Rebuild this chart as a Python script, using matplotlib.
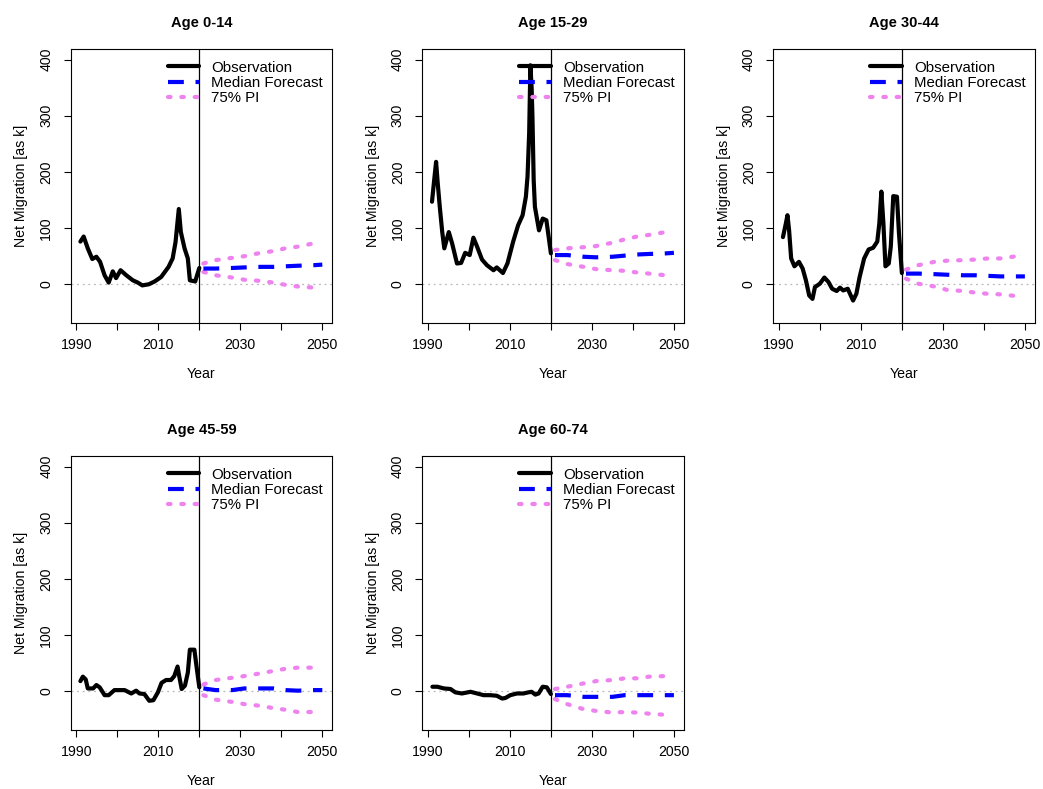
import matplotlib
matplotlib.use('Agg')
from matplotlib import pyplot as plt

plt.rcParams['font.family'] = ['Liberation Sans', 'DejaVu Sans']

titles = ['Age 0-14', 'Age 15-29', 'Age 30-44', 'Age 45-59', 'Age 60-74']

obs_year_0014 = [1991.0, 1991.8, 1992.8, 1993.9, 1994.9, 1995.8, 1996.9, 1997.9, 1998.9, 1999.7,
                 2000.8, 2002.2, 2003.8, 2005.0, 2006.1, 2007.7, 2009.1, 2010.7, 2012.5, 2013.5,
                 2014.2, 2015.0, 2015.5, 2016.4, 2017.2, 2017.7, 2019.0, 2020.0]
obs_0014 = [76, 85, 64, 45, 49, 40, 16, 3, 23, 11, 25, 16, 7, 3, -2, 0, 5, 13, 31, 46,
            75, 134, 93, 64, 46, 7, 5, 29]

obs_year_1529 = [1991.0, 1991.5, 1992.0, 1992.4, 1992.9, 1993.5, 1994.0, 1995.1, 1995.9, 1997.1,
                 1998.1, 1999.1, 2000.2, 2001.1, 2002.0, 2003.2, 2004.4, 2006.0, 2006.8, 2008.3,
                 2009.4, 2010.8, 2012.0, 2013.1, 2013.9, 2014.3, 2014.7, 2015.0, 2015.3, 2015.5,
                 2015.8, 2016.1, 2017.1, 2018.0, 2018.9, 2020.0]
obs_1529 = [147, 183, 218, 180, 138, 93, 64, 93, 73, 37, 38, 56, 52, 83, 67, 44, 34, 25, 30, 20,
            37, 76, 105, 123, 156, 192, 269, 390, 350, 299, 186, 138, 96, 117, 114, 55]

obs_year_3044 = [1991.0, 1991.7, 1992.1, 1992.5, 1993.0, 1993.8, 1994.9, 1995.8, 1996.6, 1997.4,
                 1998.2, 1998.8, 2000.0, 2001.1, 2002.1, 2003.0, 2004.1, 2004.9, 2005.7, 2006.8,
                 2008.1, 2008.9, 2009.7, 2010.8, 2011.9, 2013.0, 2014.0, 2014.5, 2015.0, 2015.5,
                 2016.0, 2016.8, 2017.3, 2017.9, 2018.8, 2019.3, 2020.0]
obs_3044 = [84, 108, 123, 96, 46, 32, 40, 28, 7, -20, -26, -5, 1, 12, 4, -8, -12, -6, -11, -8,
            -29, -17, 13, 46, 62, 65, 76, 108, 165, 108, 32, 37, 67, 157, 156, 90, 20]

obs_year_4559 = [1991.0, 1991.6, 1992.3, 1992.8, 1994.1, 1994.9, 1995.7, 1996.9, 1997.9, 1999.3,
                 2001.8, 2003.4, 2004.6, 2005.4, 2006.6, 2007.8, 2008.8, 2009.9, 2010.8, 2011.9,
                 2013.1, 2013.9, 2014.7, 2015.1, 2015.7, 2016.5, 2017.2, 2017.7, 2018.8, 2019.2,
                 2020.0]
obs_4559 = [18, 26, 21, 5, 5, 11, 7, -7, -7, 2, 2, -4, 1, -4, -5, -17, -16, -2, 15, 20,
            20, 27, 44, 27, 4, 10, 33, 74, 74, 51, 7]

obs_year_6074 = [1991.1, 1992.3, 1993.9, 1995.5, 1996.7, 1998.3, 2000.4, 2002.0, 2003.6, 2005.2,
                 2006.8, 2008.1, 2008.9, 2010.1, 2011.7, 2013.3, 2014.5, 2015.3, 2016.2, 2017.0,
                 2018.0, 2019.0, 2020.0]
obs_6074 = [8, 8, 5, 4, -2, -4, -1, -4, -7, -7, -8, -13, -12, -7, -4, -4, -2, -1, -6, -4,
            8, 7, -5]

# forecasts
fc_year = [2021, 2024, 2028, 2031, 2035, 2038, 2041, 2044, 2048, 2050]
med_0014 = [28, 28, 29, 30, 31, 31, 32, 33, 34, 35]
med_1529 = [52, 52, 49, 48, 49, 51, 53, 54, 55, 56]
med_3044 = [19, 19, 18, 17, 16, 16, 15, 14, 14, 14]
med_4559 = [5, 2, 2, 5, 5, 5, 2, 1, 2, 2]
med_6074 = [-7, -7, -10, -10, -10, -7, -7, -7, -7, -7]

pi_year = [2021, 2024, 2028, 2031, 2035, 2038, 2041, 2044, 2048]
up_0014 = [37, 43, 47, 50, 56, 59, 64, 67, 73]
up_1529 = [61, 64, 66, 68, 74, 80, 85, 88, 93]
up_3044 = [26, 34, 40, 42, 43, 44, 46, 46, 50]
up_4559 = [12, 20, 24, 27, 32, 36, 40, 42, 42]
up_6074 = [4, 8, 14, 18, 20, 23, 23, 26, 27]
lo_0014 = [22, 16, 12, 8, 6, 3, -1, -4, -6]
lo_1529 = [43, 36, 31, 27, 25, 24, 21, 19, 16]
lo_3044 = [10, 1, -4, -10, -12, -15, -17, -18, -21]
lo_4559 = [-7, -15, -19, -23, -26, -30, -33, -37, -37]
lo_6074 = [-14, -23, -32, -35, -38, -37, -38, -40, -42]

panels = [
    (obs_year_0014, obs_0014, med_0014, up_0014, lo_0014),
    (obs_year_1529, obs_1529, med_1529, up_1529, lo_1529),
    (obs_year_3044, obs_3044, med_3044, up_3044, lo_3044),
    (obs_year_4559, obs_4559, med_4559, up_4559, lo_4559),
    (obs_year_6074, obs_6074, med_6074, up_6074, lo_6074),
]

fs = 10.2
leg_fs = 10.8


def plot_panel(ax, title, obs_year, obs, med, up, lo):
    ax.axhline(0, color='#b8b8b8', lw=0.9, ls=(0, (1.5, 3)), zorder=1)
    ax.plot(obs_year, obs, color='black', lw=3, solid_capstyle='round',
            solid_joinstyle='round', label='Observation', zorder=3)
    ax.plot(fc_year, med, color='blue', lw=3, ls=(0, (3.8, 2.8)),
            label='Median Forecast', zorder=3)
    ax.plot(pi_year, up, color='violet', lw=3, ls=(0, (0.6, 2.6)),
            dash_capstyle='round', label='75% PI', zorder=2)
    ax.plot(pi_year, lo, color='violet', lw=3, ls=(0, (0.6, 2.6)),
            dash_capstyle='round', zorder=2)
    ax.axvline(2020, color='black', lw=0.9, zorder=4)

    ax.set_xlim(1988.64, 2052.36)
    ax.set_ylim(-69, 419)
    ax.set_xticks(range(1990, 2051, 10))
    ax.set_xticklabels(['1990', '', '2010', '', '2030', '', '2050'])
    ax.set_yticks(range(0, 401, 100))
    ax.tick_params(direction='out', length=5, width=0.8, labelsize=fs)
    ax.tick_params(axis='x', pad=5.5)
    ax.tick_params(axis='y', pad=7.5)
    for lab in ax.get_yticklabels():
        lab.set_rotation(90)
        lab.set_va('center')
    for sp in ax.spines.values():
        sp.set_linewidth(0.8)

    ax.set_title(title, fontsize=10.5, fontweight='bold', pad=16)
    ax.set_xlabel('Year', fontsize=fs, labelpad=11)
    ax.set_ylabel('Net Migration [as k]', fontsize=fs, labelpad=8)
    ax.legend(loc='upper right', bbox_to_anchor=(1, 0.99), frameon=False,
              fontsize=leg_fs, handlelength=2.1, handletextpad=0.8,
              labelspacing=0.08, borderaxespad=0.3, borderpad=0.3)


fig = plt.figure(figsize=(10.43, 7.89), dpi=100)
lefts = [0.0678, 0.4049, 0.7414]
bottoms = [0.5906, 0.0748]
w, h = 0.2505, 0.3473

for i, (title, data) in enumerate(zip(titles, panels)):
    ax = fig.add_axes([lefts[i % 3], bottoms[i // 3], w, h])
    plot_panel(ax, title, *data)

plt.savefig('out.png', dpi=100)
